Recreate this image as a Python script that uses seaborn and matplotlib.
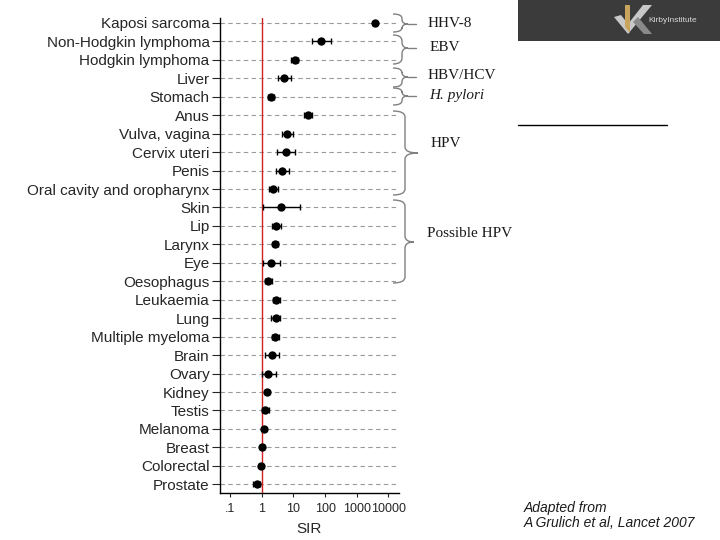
import numpy as np
import pandas as pd
import matplotlib
matplotlib.use("Agg")
import matplotlib.pyplot as plt
import seaborn as sns
from matplotlib.path import Path
from matplotlib.patches import PathPatch, Rectangle, Polygon

# ---------------- data ----------------
cancers = ["Kaposi sarcoma", "Non-Hodgkin lymphoma", "Hodgkin lymphoma", "Liver",
           "Stomach", "Anus", "Vulva, vagina", "Cervix uteri", "Penis",
           "Oral cavity and oropharynx", "Skin", "Lip", "Larynx", "Eye",
           "Oesophagus", "Leukaemia", "Lung", "Multiple myeloma", "Brain",
           "Ovary", "Kidney", "Testis", "Melanoma", "Breast", "Colorectal",
           "Prostate"]
sir = [3640, 76.7, 11.0, 5.2, 1.9, 28.8, 6.45, 5.8, 4.4, 2.3, 4.1, 2.8, 2.7,
       1.98, 1.62, 2.85, 2.72, 2.71, 2.15, 1.6, 1.45, 1.3, 1.2, 1.03, 0.92, 0.70]
ci_low = [3330, 39.4, 8.4, 3.3, 1.55, 21.6, 4.2, 3.0, 2.8, 1.65, 1.08, 2.05, 2.2,
          1.07, 1.23, 2.2, 1.92, 2.1, 1.27, 1.0, 1.23, 1.04, 1.0, 0.87, 0.80, 0.52]
ci_high = [3980, 149, 14.4, 8.2, 2.35, 38.3, 9.96, 11.3, 7.0, 3.25, 15.6, 4.1, 3.3,
           3.65, 2.13, 3.75, 3.86, 3.45, 3.55, 2.9, 1.7, 1.7, 1.4, 1.18, 1.08, 0.88]
xtick_vals = [0.1, 1, 10, 100, 1000, 10000]
xtick_labels = [".1", "1", "10", "100", "1000", "10000"]

groups = ["HHV-8", "EBV", "HBV/HCV", "H. pylori", "HPV", "Possible HPV"]

df = pd.DataFrame({"cancer": cancers, "SIR": sir, "lo": ci_low, "hi": ci_high})
df["pos"] = np.arange(len(df))

# ---------------- figure ----------------
sns.set_style("ticks")
plt.rcParams["font.family"] = ["Liberation Sans", "DejaVu Sans"]

fig = plt.figure(figsize=(7.2, 5.4), dpi=100)
ax = fig.add_axes([220 / 720, 1 - 493.3 / 540, (399 - 220) / 720, (493.3 - 18) / 540])

# gridlines
for p in df["pos"]:
    ax.axhline(p, color="#9a9a9a", lw=0.8, ls=(0, (4, 3)), zorder=0)

ax.axvline(1, color="#d02020", lw=1.0, zorder=1)

xerr = np.vstack([df["SIR"] - df["lo"], df["hi"] - df["SIR"]])
ax.errorbar(df["SIR"], df["pos"], xerr=xerr, fmt="none", ecolor="black",
            elinewidth=1.0, capsize=2.2, capthick=1.0, zorder=2)
sns.scatterplot(data=df, x="SIR", y="pos", ax=ax, color="black", s=36,
                edgecolor="black", linewidth=0, zorder=3, legend=False)

ax.set_xscale("log")
ax.set_xlim(0.048, 21500)
ax.set_ylim(25.49, -0.27)
ax.set_yticks(df["pos"])
ax.set_yticklabels(cancers, fontsize=11)
ax.set_xticks(xtick_vals)
ax.set_xticklabels(xtick_labels, fontsize=9)
ax.xaxis.set_minor_locator(matplotlib.ticker.NullLocator())
ax.set_xlabel("SIR", fontsize=11, labelpad=5)
ax.set_ylabel("")
ax.tick_params(axis="y", direction="out", length=5.5, width=0.8, pad=2)
ax.tick_params(axis="x", direction="out", length=3, width=0.8, pad=4)
for s in ["top", "right"]:
    ax.spines[s].set_visible(False)
for s in ["left", "bottom"]:
    ax.spines[s].set_color("black")
    ax.spines[s].set_linewidth(1.0)

# ---------------- overlay for annotations (pixel coords) ----------------
ov = fig.add_axes([0, 0, 1, 1], zorder=5)
ov.set_xlim(0, 720)
ov.set_ylim(540, 0)
ov.axis("off")
ov.patch.set_alpha(0)


def brace(x0, xv, xt, y0, y1, ym, dash_to=None, color="#808080"):
    q = min(6, (y1 - y0) / 4)
    verts = [(x0, y0), (xv, y0), (xv, y0 + q),
             (xv, ym - q), (xv, ym), (xt, ym),
             (xv, ym), (xv, ym + q),
             (xv, y1 - q), (xv, y1), (x0, y1)]
    codes = [Path.MOVETO, Path.CURVE3, Path.CURVE3,
             Path.LINETO, Path.CURVE3, Path.CURVE3,
             Path.CURVE3, Path.CURVE3,
             Path.LINETO, Path.CURVE3, Path.CURVE3]
    ov.add_patch(PathPatch(Path(verts, codes), fc="none", ec=color, lw=1.0))
    if dash_to is not None:
        ov.plot([xt, dash_to], [ym, ym], color=color, lw=1.0)


brace(393, 402, 408, 14, 32, 24, dash_to=416)
brace(393, 402, 408, 35, 64, 48, dash_to=416)
brace(393, 402, 408, 68, 87, 77, dash_to=416)
brace(393, 402, 408, 88, 105, 96, dash_to=416)
brace(393, 405, 418, 111, 195, 153)
brace(393, 405, 414, 200, 283, 242)

serif = ["Liberation Serif", "DejaVu Serif"]
label_pos = [(428, 23.3), (430, 47.7), (428, 75.7), (429, 95.7), (431, 143.3), (427, 233.3)]
for g, (x, y) in zip(groups, label_pos):
    ov.text(x, y, g, family=serif, fontsize=11, va="center", ha="left",
            color="#1a1a1a", style="italic" if g == "H. pylori" else "normal")

# logo box
ov.add_patch(Rectangle((518, 0), 202, 41, fc="#3b3b3b", ec="none"))
ov.add_patch(Polygon([(614, 17), (628, 34), (652, 5), (643, 5), (628, 24), (621, 15)],
                     closed=True, fc="#c8c8c8", ec="none"))
ov.add_patch(Polygon([(625, 5), (630, 5), (630, 33), (625, 27)], closed=True,
                     fc="#c9a45c", ec="none"))
ov.add_patch(Polygon([(633, 22), (638, 17), (652, 34), (644, 34)], closed=True,
                     fc="#8a8a8a", ec="none"))
ov.text(648, 20, "KirbyInstitute", fontsize=6, color="#d8d8d8", va="center", ha="left")

# separator line
ov.plot([518, 667], [125, 125], color="black", lw=1.0)

# citation
ov.text(524, 508.3, "Adapted from", fontsize=10, style="italic", va="center",
        ha="left", color="#1a1a1a")
ov.text(524, 523.3, "A Grulich et al, Lancet 2007", fontsize=10, style="italic",
        va="center", ha="left", color="#1a1a1a")

fig.savefig("out.png", dpi=100)
